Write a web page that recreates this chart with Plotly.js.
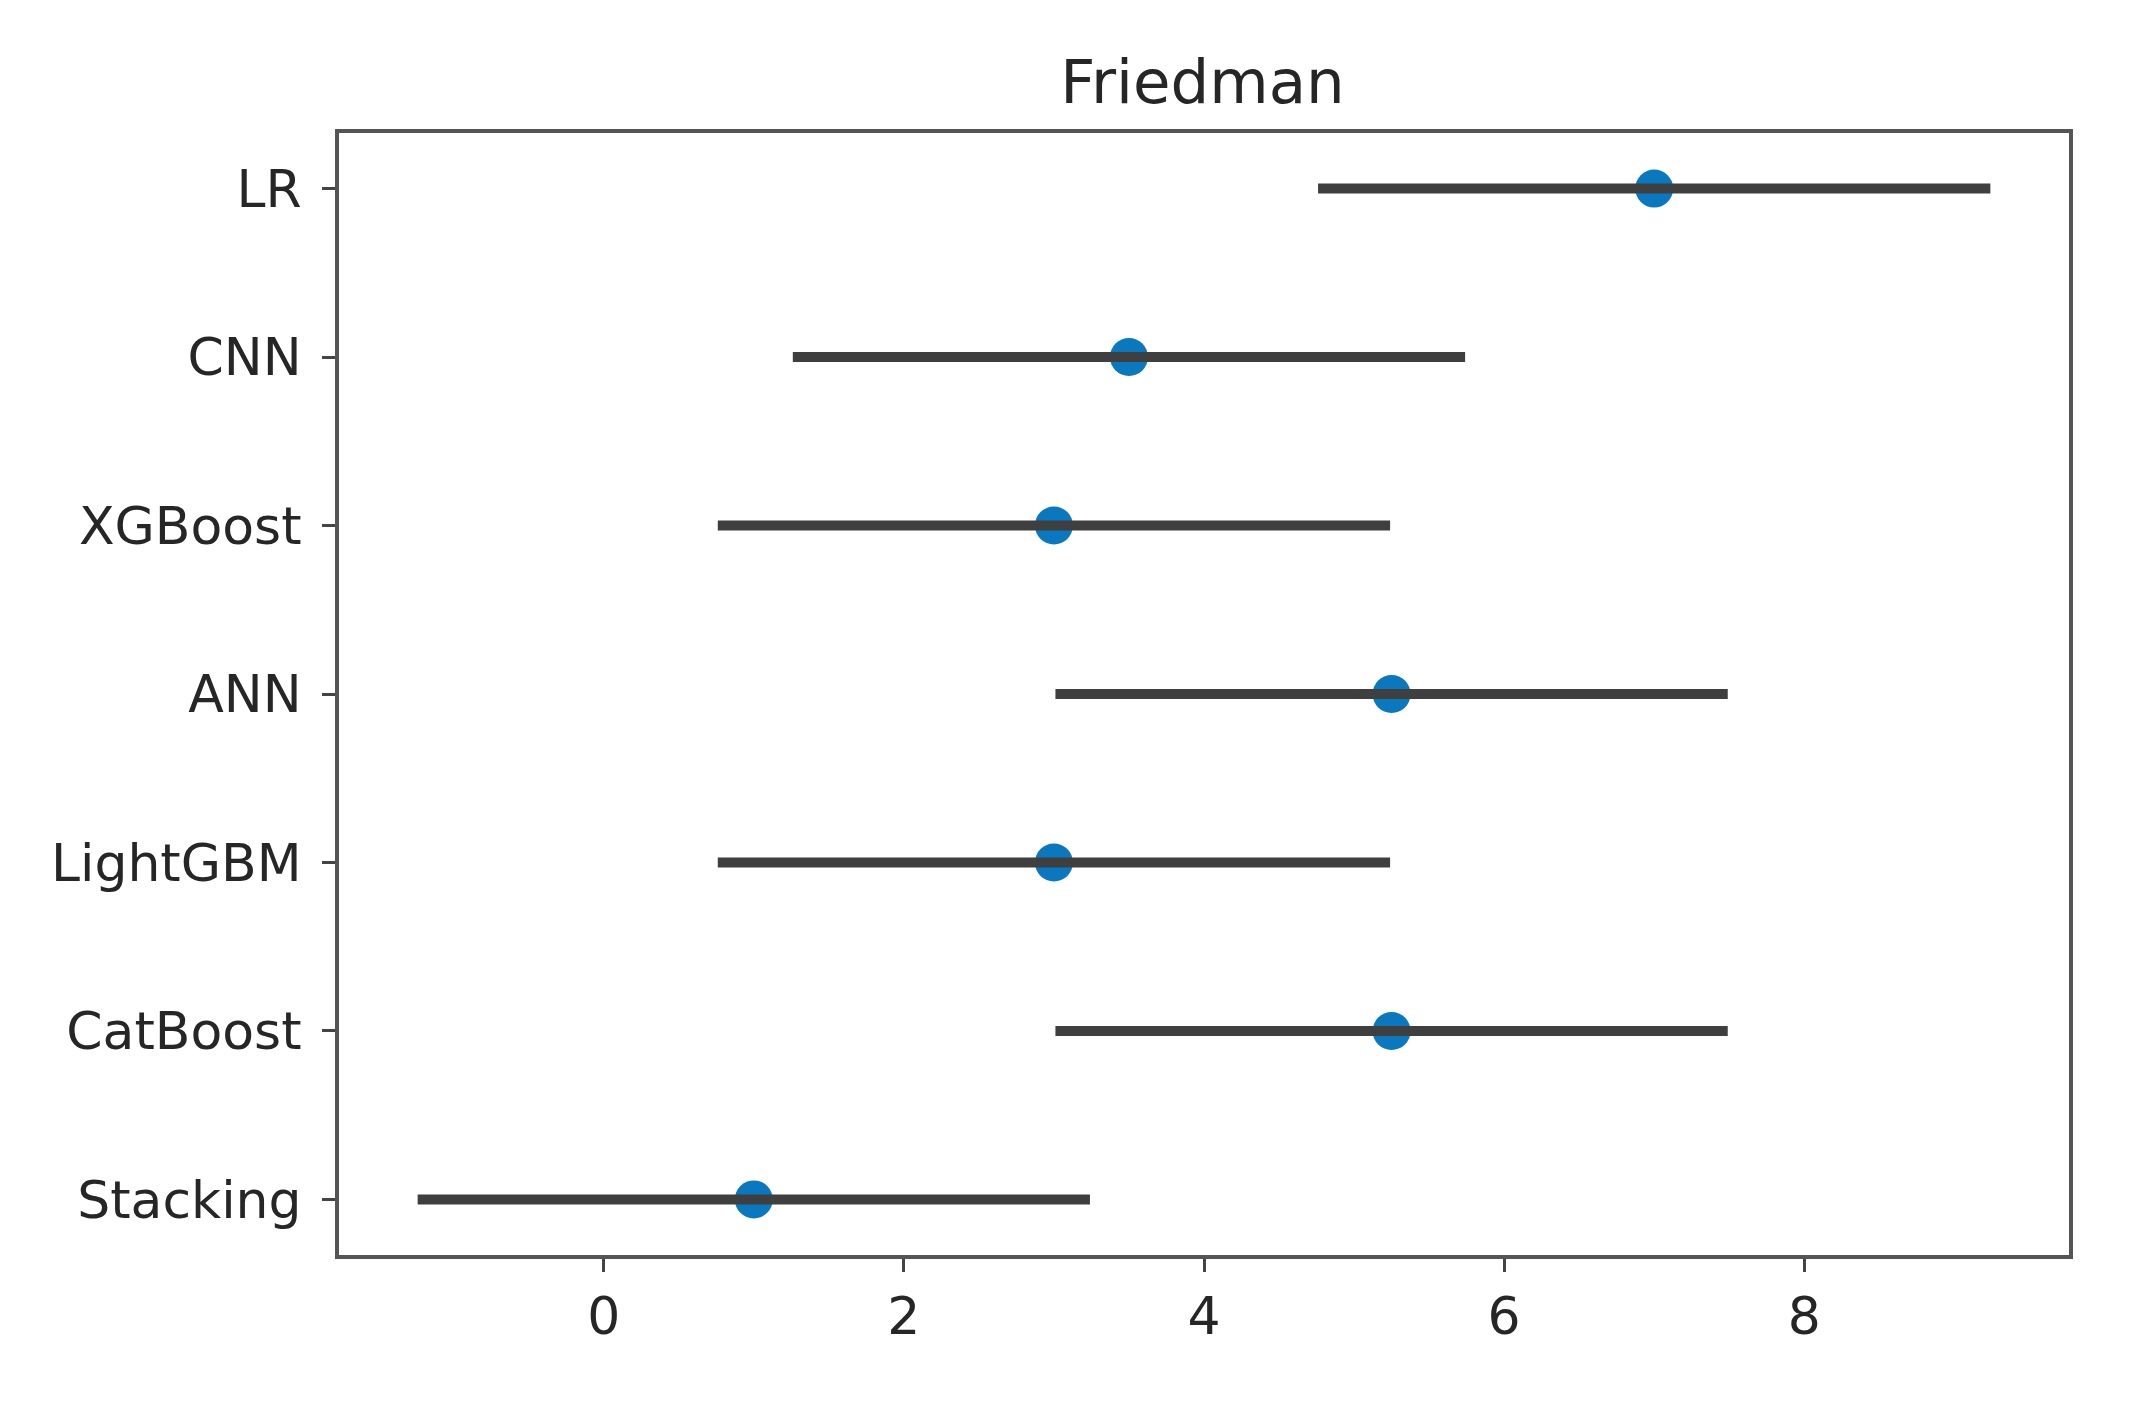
<!DOCTYPE html>
<html>
<head>
<meta charset="utf-8">
<script src="https://cdn.plot.ly/plotly-3.0.1.min.js"></script>
<style>
  body { margin: 0; background: #fff; }
  #chart { width: 2134px; height: 1404px; }
</style>
</head>
<body>
<div id="chart"></div>
<script>
// models, top to bottom
var models = ['LR', 'CNN', 'XGBoost', 'ANN', 'LightGBM', 'CatBoost', 'Stacking'];
// mean ranks
var ranks = [7.0, 3.5, 3.0, 5.25, 3.0, 5.25, 1.0];
// half width of the interval
var halfWidth = [2.24, 2.24, 2.24, 2.24, 2.24, 2.24, 2.24];
var xTicks = [0, 2, 4, 6, 8];

var pos = models.map(function (m, i) { return i; });

var dots = {
  x: ranks,
  y: pos,
  mode: 'markers',
  marker: { color: '#0a78bf', size: 38 },
  hoverinfo: 'skip'
};

var bars = {
  x: ranks,
  y: pos,
  mode: 'markers',
  marker: { color: 'rgba(0,0,0,0)', size: 1 },
  error_x: {
    type: 'data',
    array: halfWidth,
    color: '#3f3f3f',
    thickness: 10,
    width: 0
  },
  hoverinfo: 'skip'
};

var layout = {
  width: 2134,
  height: 1404,
  margin: { l: 339, r: 65, t: 133, b: 149 },
  paper_bgcolor: '#fff',
  plot_bgcolor: '#fff',
  showlegend: false,
  font: { family: 'DejaVu Sans', size: 52, color: '#262626' },
  title: {
    text: 'Friedman',
    font: { family: 'DejaVu Sans', size: 61, color: '#262626' },
    x: 0.5635, xanchor: 'center',
    y: 0.9416, yanchor: 'middle'
  },
  xaxis: {
    range: [-1.764, 9.764],
    tickvals: xTicks,
    ticks: 'outside', ticklen: 13, tickwidth: 3, tickcolor: '#444',
    showgrid: false, zeroline: false,
    showline: true, linecolor: '#555', linewidth: 4, mirror: true
  },
  yaxis: {
    range: [models.length - 1 + 0.33, -0.33],
    tickvals: pos,
    ticktext: models,
    ticks: 'outside', ticklen: 13, tickwidth: 3, tickcolor: '#444',
    ticklabelstandoff: 10,
    showgrid: false, zeroline: false,
    showline: true, linecolor: '#555', linewidth: 4, mirror: true
  }
};

Plotly.newPlot('chart', [dots, bars], layout, { displayModeBar: false });
</script>
</body>
</html>
